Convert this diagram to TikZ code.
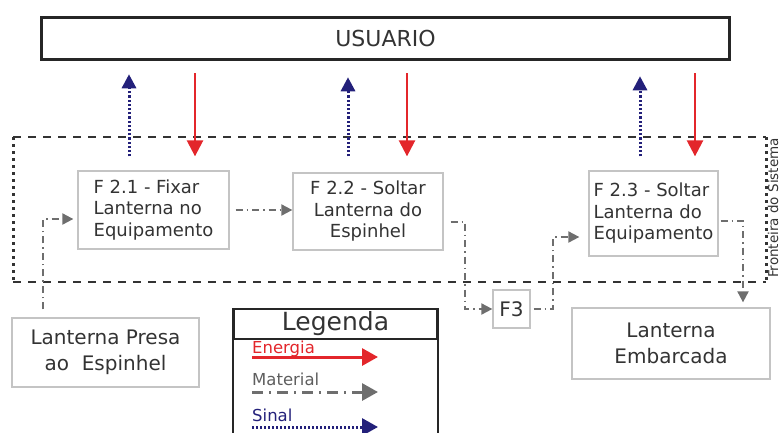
\documentclass[tikz,border=0pt]{standalone}
\usepackage{fontspec}
\setsansfont{DejaVu Sans}
\usetikzlibrary{arrows.meta}
\definecolor{energred}{HTML}{E3262B}
\definecolor{sinalblue}{HTML}{23207A}
\definecolor{matgray}{HTML}{6E6E6E}
\definecolor{boxgray}{HTML}{C4C4C4}
\definecolor{txtgray}{HTML}{333333}
\begin{document}
\begin{tikzpicture}[font=\sffamily,x=1pt,y=-1pt,
  ubox/.style={draw=black!85,line width=3.5pt,text=txtgray,inner sep=0pt,font=\sffamily\fontsize{22}{26}\selectfont},
  fbox/.style={draw=boxgray,line width=1.3pt,text=txtgray,inner sep=0pt,align=left,font=\sffamily\fontsize{18}{21.5}\selectfont},
  ebox/.style={fbox,align=center,font=\sffamily\fontsize{20}{26}\selectfont},
  lgtext/.style={anchor=base west,inner sep=0pt,font=\sffamily\fontsize{16.5}{18}\selectfont},
  energia/.style={draw=energred,line width=2.5pt,-{Triangle[length=16pt,width=16pt]}},
  sinal/.style={draw=sinalblue,line width=3pt,dash pattern=on 2.2pt off 2pt,-{Triangle[length=14pt,width=14pt]}},
  material/.style={draw=matgray,line width=2pt,dash pattern=on 7pt off 4pt on 1.5pt off 4pt,-{Triangle[length=11pt,width=11pt]}},
  fdash/.style={draw=black!80,line width=2.5pt,dash pattern=on 8pt off 7pt},
  fdot/.style={draw=black!80,line width=3pt,dash pattern=on 3pt off 4pt}]
\useasboundingbox (0,0) rectangle (781,432);
% fronteira do sistema
\coordinate (fr1) at (13,137); \coordinate (fr2) at (766,282);
\draw[fdash] (fr1) -- (fr1 -| fr2);
\draw[fdash] (fr1 |- fr2) -- (fr2);
\draw[fdot] (fr1) -- (fr1 |- fr2);
\draw[fdot] (fr1 -| fr2) -- (fr2);
\node[rotate=90,inner sep=0pt,text=txtgray,font=\sffamily\fontsize{13.5}{15}\selectfont] (fronteira) at (773,208) {Fronteira do Sistema};
% blocos
\node[ubox,minimum width=688pt,minimum height=42pt] (usuario) at (385.5,38.5) {USUARIO};
\node[fbox,minimum width=151pt,minimum height=78pt] (f21) at (153.5,210) {F 2.1 - Fixar\\Lanterna no\\Equipamento};
\node[fbox,align=center,minimum width=150pt,minimum height=77pt] (f22) at (368,211.5) {F 2.2 - Soltar\\Lanterna do\\Espinhel};
\node[fbox,minimum width=129pt,minimum height=85pt] (f23) at (653.5,213.5) {F 2.3 - Soltar\\Lanterna do\\Equipamento};
\node[fbox,font=\sffamily\fontsize{20}{24}\selectfont,minimum width=37pt,minimum height=38pt] (f3) at (511.5,309) {F3};
\node[ebox,minimum width=187pt,minimum height=69pt] (presa) at (105.5,352.5) {Lanterna Presa\\ao\ \ Espinhel};
\node[ebox,minimum width=198pt,minimum height=71pt] (embarc) at (671,343.5) {Lanterna\\Embarcada};
% sinal e energia
\coordinate (s1) at (129,0); \coordinate (s2) at (348,0); \coordinate (s3) at (640,0);
\coordinate (e1) at (195,0); \coordinate (e2) at (407,0); \coordinate (e3) at (695,0);
\draw[sinal,shorten <=14pt,shorten >=13pt] (f21.north -| s1) -- (usuario.south -| s1);
\draw[sinal,shorten <=16pt,shorten >=16pt] (f22.north -| s2) -- (usuario.south -| s2);
\draw[sinal,shorten <=14pt,shorten >=15pt] (f23.north -| s3) -- (usuario.south -| s3);
\draw[energia,shorten <=12pt,shorten >=14pt] (usuario.south -| e1) -- (f21.north -| e1);
\draw[energia,shorten <=12pt,shorten >=16pt] (usuario.south -| e2) -- (f22.north -| e2);
\draw[energia,shorten <=12pt,shorten >=14pt] (usuario.south -| e3) -- (f23.north -| e3);
% material
\coordinate (m1) at (43,0); \coordinate (m3) at (465,0);
\coordinate (m4) at (553,0); \coordinate (m5) at (743,0);
\coordinate (f21in) at ([yshift=-9pt]f21.west);
\coordinate (f22out) at ([xshift=7pt,yshift=-10pt]f22.east);
\coordinate (f23in) at ([yshift=-23.5pt]f23.west);
\coordinate (f23out) at ([xshift=2pt,yshift=-7pt]f23.east);
\draw[material,shorten <=8pt,shorten >=4pt] (presa.north -| m1) |- (f21in);
\draw[material,shorten <=6pt] (f21.east) -- (f21.east -| f22.west);
\draw[material] (f22out) -| (f3.west -| m3) -- (f3.west);
\draw[material,shorten <=3pt,shorten >=9pt] (f3.east) -| (m4 |- f23in) -- (f23in);
\draw[material,shorten >=5pt] (f23out) -| (embarc.north -| m5);
% legenda
\node[draw=black!85,line width=1.8pt,minimum width=203pt,minimum height=30pt,inner sep=0pt,text=txtgray,font=\sffamily\fontsize{25}{27}\selectfont] (legenda) at (335.5,324) {Legenda};
\coordinate (lgbot) at (0,445);
\draw[black!85,line width=1.8pt] (legenda.north west) -- (legenda.north west |- lgbot);
\draw[black!85,line width=1.8pt] (legenda.north east) -- (legenda.north east |- lgbot);
\node[lgtext,text=energred] (lenerg) at (252,353) {Energia};
\node[lgtext,text=matgray!85!black] (lmat) at (252,385) {Material};
\node[lgtext,text=sinalblue] (lsinal) at (252,421) {Sinal};
\coordinate (lgtip) at (378,0);
\coordinate (le) at (252,357); \coordinate (lm) at (252,392); \coordinate (ls) at (252,427);
\draw[energia,line width=3pt,-{Triangle[length=16pt,width=17pt]}] (le) -- (le -| lgtip);
\draw[material,line width=3pt,dash pattern=on 11pt off 6pt on 2pt off 6pt,-{Triangle[length=16pt,width=17pt]}] (lm) -- (lm -| lgtip);
\draw[sinal,dash pattern=on 2pt off 2pt,-{Triangle[length=16pt,width=17pt]}] (ls) -- (ls -| lgtip);
\end{tikzpicture}
\end{document}
